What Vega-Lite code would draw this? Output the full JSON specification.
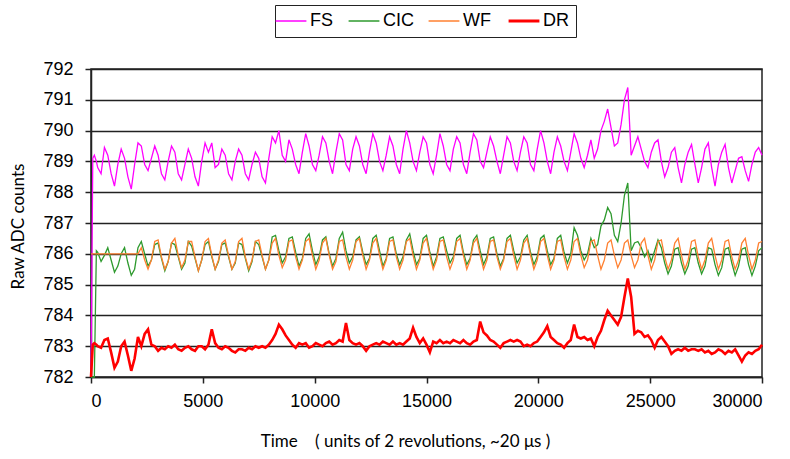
{
"$schema": "https://vega.github.io/schema/vega-lite/v6.json",
"width": 671, "height": 308,
"autosize": {"type": "none"},
"padding": {"left": 91, "top": 69, "right": 28, "bottom": 82},
"background": "white",
"config": {
 "view": {"stroke": "#222", "strokeWidth": 1.5},
 "font": "Liberation Sans",
 "axis": {"domainColor": "#222", "domainWidth": 1.5, "tickColor": "#222", "tickWidth": 1.5, "tickSize": 6, "labelFont": "Liberation Sans", "labelFontSize": 18, "labelColor": "#000", "titleFont": "Lato", "titleFontSize": 17, "titleFontWeight": "normal", "titleColor": "#000"},
 "legend": {"labelFont": "Liberation Sans"}
},
"data": {"values": [
{"t":0,"FS":782.0,"CIC":782.0,"WF":786.0,"DR":782.0},
{"t":80,"FS":789.1,"CIC":782.0,"WF":786.0,"DR":783.05},
{"t":150,"FS":789.2,"CIC":782.0,"WF":786.0,"DR":783.1},
{"t":240,"FS":789.0,"CIC":786.1,"WF":786.0,"DR":783.05},
{"t":300,"FS":788.8,"CIC":786.05,"WF":786.0,"DR":783.0},
{"t":450,"FS":788.6,"CIC":785.75,"WF":786.0,"DR":782.95},
{"t":600,"FS":789.45,"CIC":785.95,"WF":786.0,"DR":783.2},
{"t":750,"FS":789.2,"CIC":786.2,"WF":786.0,"DR":783.25},
{"t":900,"FS":788.6,"CIC":785.8,"WF":786.0,"DR":782.8},
{"t":1050,"FS":788.2,"CIC":785.4,"WF":786.0,"DR":782.3},
{"t":1200,"FS":788.9,"CIC":785.6,"WF":786.0,"DR":782.5},
{"t":1350,"FS":789.4,"CIC":786.0,"WF":786.0,"DR":783.0},
{"t":1500,"FS":789.1,"CIC":786.2,"WF":786.0,"DR":783.15},
{"t":1650,"FS":788.5,"CIC":785.7,"WF":786.0,"DR":782.7},
{"t":1800,"FS":788.1,"CIC":785.3,"WF":786.0,"DR":782.2},
{"t":1950,"FS":788.9,"CIC":785.5,"WF":786.0,"DR":782.6},
{"t":2100,"FS":789.6,"CIC":786.2,"WF":786.0,"DR":783.3},
{"t":2250,"FS":789.5,"CIC":786.4,"WF":786.2,"DR":783.0},
{"t":2400,"FS":788.9,"CIC":786.0,"WF":785.8,"DR":783.4},
{"t":2550,"FS":788.7,"CIC":785.6,"WF":785.5,"DR":783.55},
{"t":2700,"FS":789.1,"CIC":785.8,"WF":785.8,"DR":783.05},
{"t":2850,"FS":789.5,"CIC":786.3,"WF":786.4,"DR":783.0},
{"t":3000,"FS":789.2,"CIC":786.35,"WF":786.45,"DR":782.85},
{"t":3150,"FS":788.6,"CIC":785.85,"WF":785.9,"DR":782.95},
{"t":3300,"FS":788.4,"CIC":785.45,"WF":785.5,"DR":782.9},
{"t":3450,"FS":789.0,"CIC":785.75,"WF":785.75,"DR":783.0},
{"t":3600,"FS":789.5,"CIC":786.35,"WF":786.35,"DR":782.95},
{"t":3750,"FS":789.3,"CIC":786.3,"WF":786.5,"DR":783.05},
{"t":3900,"FS":788.6,"CIC":785.9,"WF":785.95,"DR":782.9},
{"t":4050,"FS":788.4,"CIC":785.5,"WF":785.55,"DR":782.85},
{"t":4200,"FS":788.9,"CIC":785.7,"WF":785.8,"DR":782.95},
{"t":4350,"FS":789.4,"CIC":786.4,"WF":786.4,"DR":783.0},
{"t":4500,"FS":789.1,"CIC":786.25,"WF":786.4,"DR":782.9},
{"t":4650,"FS":788.5,"CIC":785.85,"WF":785.9,"DR":782.85},
{"t":4800,"FS":788.2,"CIC":785.45,"WF":785.45,"DR":783.0},
{"t":4950,"FS":789.0,"CIC":785.8,"WF":785.8,"DR":783.0},
{"t":5100,"FS":789.6,"CIC":786.3,"WF":786.4,"DR":782.9},
{"t":5250,"FS":789.3,"CIC":786.4,"WF":786.5,"DR":783.05},
{"t":5400,"FS":789.6,"CIC":785.9,"WF":785.95,"DR":783.55},
{"t":5550,"FS":788.8,"CIC":785.5,"WF":785.5,"DR":783.1},
{"t":5700,"FS":788.9,"CIC":785.75,"WF":785.8,"DR":782.95},
{"t":5850,"FS":789.4,"CIC":786.3,"WF":786.35,"DR":782.9},
{"t":6000,"FS":789.2,"CIC":786.35,"WF":786.45,"DR":783.0},
{"t":6150,"FS":788.6,"CIC":785.9,"WF":785.95,"DR":782.95},
{"t":6300,"FS":788.4,"CIC":785.5,"WF":785.5,"DR":782.85},
{"t":6450,"FS":789.0,"CIC":785.7,"WF":785.75,"DR":782.8},
{"t":6600,"FS":789.4,"CIC":786.35,"WF":786.4,"DR":782.9},
{"t":6750,"FS":789.2,"CIC":786.3,"WF":786.5,"DR":782.9},
{"t":6900,"FS":788.6,"CIC":785.85,"WF":785.9,"DR":782.85},
{"t":7050,"FS":788.4,"CIC":785.45,"WF":785.5,"DR":782.95},
{"t":7200,"FS":788.9,"CIC":785.75,"WF":785.8,"DR":782.9},
{"t":7350,"FS":789.3,"CIC":786.4,"WF":786.4,"DR":783.0},
{"t":7500,"FS":789.1,"CIC":786.3,"WF":786.45,"DR":782.95},
{"t":7650,"FS":788.5,"CIC":785.9,"WF":785.95,"DR":783.0},
{"t":7800,"FS":788.3,"CIC":785.5,"WF":785.5,"DR":782.95},
{"t":7950,"FS":789.1,"CIC":785.8,"WF":785.8,"DR":783.05},
{"t":8100,"FS":789.8,"CIC":786.55,"WF":786.35,"DR":783.2},
{"t":8250,"FS":789.6,"CIC":786.6,"WF":786.5,"DR":783.4},
{"t":8400,"FS":790.0,"CIC":786.1,"WF":785.95,"DR":783.7},
{"t":8550,"FS":789.2,"CIC":785.7,"WF":785.55,"DR":783.55},
{"t":8700,"FS":789.0,"CIC":785.9,"WF":785.8,"DR":783.35},
{"t":8850,"FS":789.7,"CIC":786.5,"WF":786.4,"DR":783.2},
{"t":9000,"FS":789.4,"CIC":786.55,"WF":786.45,"DR":783.05},
{"t":9150,"FS":788.9,"CIC":786.05,"WF":785.9,"DR":782.95},
{"t":9300,"FS":788.6,"CIC":785.6,"WF":785.5,"DR":783.1},
{"t":9450,"FS":789.3,"CIC":785.85,"WF":785.8,"DR":783.05},
{"t":9600,"FS":789.9,"CIC":786.5,"WF":786.4,"DR":783.1},
{"t":9750,"FS":789.5,"CIC":786.65,"WF":786.5,"DR":782.95},
{"t":9900,"FS":788.9,"CIC":786.1,"WF":785.95,"DR":783.0},
{"t":10050,"FS":788.7,"CIC":785.65,"WF":785.5,"DR":783.1},
{"t":10200,"FS":789.2,"CIC":785.9,"WF":785.8,"DR":783.05},
{"t":10350,"FS":789.8,"CIC":786.45,"WF":786.35,"DR":783.0},
{"t":10500,"FS":789.6,"CIC":786.55,"WF":786.5,"DR":783.1},
{"t":10650,"FS":789.0,"CIC":786.0,"WF":785.95,"DR":783.15},
{"t":10800,"FS":788.6,"CIC":785.6,"WF":785.5,"DR":783.05},
{"t":10950,"FS":789.3,"CIC":785.85,"WF":785.75,"DR":783.1},
{"t":11100,"FS":789.9,"CIC":786.5,"WF":786.4,"DR":783.2},
{"t":11250,"FS":789.7,"CIC":786.7,"WF":786.45,"DR":783.15},
{"t":11400,"FS":788.9,"CIC":786.1,"WF":785.9,"DR":783.75},
{"t":11550,"FS":788.7,"CIC":785.7,"WF":785.5,"DR":783.2},
{"t":11700,"FS":789.4,"CIC":785.9,"WF":785.8,"DR":783.1},
{"t":11850,"FS":789.8,"CIC":786.45,"WF":786.4,"DR":783.05},
{"t":12000,"FS":789.5,"CIC":786.55,"WF":786.5,"DR":783.1},
{"t":12150,"FS":788.9,"CIC":786.05,"WF":785.95,"DR":783.0},
{"t":12300,"FS":788.6,"CIC":785.65,"WF":785.5,"DR":782.85},
{"t":12450,"FS":789.3,"CIC":785.85,"WF":785.8,"DR":783.0},
{"t":12600,"FS":789.9,"CIC":786.5,"WF":786.35,"DR":783.05},
{"t":12750,"FS":789.6,"CIC":786.6,"WF":786.5,"DR":783.1},
{"t":12900,"FS":789.0,"CIC":786.1,"WF":785.95,"DR":783.05},
{"t":13050,"FS":788.7,"CIC":785.6,"WF":785.5,"DR":783.15},
{"t":13200,"FS":789.2,"CIC":785.85,"WF":785.8,"DR":783.1},
{"t":13350,"FS":789.8,"CIC":786.5,"WF":786.4,"DR":783.05},
{"t":13500,"FS":789.5,"CIC":786.55,"WF":786.45,"DR":783.15},
{"t":13650,"FS":788.9,"CIC":786.0,"WF":785.9,"DR":783.05},
{"t":13800,"FS":788.6,"CIC":785.65,"WF":785.5,"DR":783.1},
{"t":13950,"FS":789.4,"CIC":785.9,"WF":785.8,"DR":783.05},
{"t":14100,"FS":790.0,"CIC":786.45,"WF":786.4,"DR":783.15},
{"t":14250,"FS":789.6,"CIC":786.65,"WF":786.5,"DR":783.25},
{"t":14400,"FS":789.0,"CIC":786.1,"WF":785.95,"DR":783.6},
{"t":14550,"FS":788.7,"CIC":785.65,"WF":785.5,"DR":783.3},
{"t":14700,"FS":789.3,"CIC":785.85,"WF":785.8,"DR":783.1},
{"t":14850,"FS":789.8,"CIC":786.5,"WF":786.35,"DR":783.25},
{"t":15000,"FS":789.6,"CIC":786.6,"WF":786.5,"DR":783.05},
{"t":15150,"FS":788.9,"CIC":786.05,"WF":785.95,"DR":782.8},
{"t":15300,"FS":788.6,"CIC":785.6,"WF":785.5,"DR":783.15},
{"t":15450,"FS":789.2,"CIC":785.9,"WF":785.8,"DR":783.1},
{"t":15600,"FS":789.9,"CIC":786.5,"WF":786.4,"DR":783.2},
{"t":15750,"FS":789.5,"CIC":786.55,"WF":786.45,"DR":783.1},
{"t":15900,"FS":788.9,"CIC":786.1,"WF":785.9,"DR":783.15},
{"t":16050,"FS":788.7,"CIC":785.7,"WF":785.5,"DR":783.1},
{"t":16200,"FS":789.4,"CIC":785.9,"WF":785.8,"DR":783.2},
{"t":16350,"FS":789.8,"CIC":786.5,"WF":786.4,"DR":783.15},
{"t":16500,"FS":789.6,"CIC":786.6,"WF":786.5,"DR":783.1},
{"t":16650,"FS":788.9,"CIC":786.05,"WF":785.95,"DR":783.2},
{"t":16800,"FS":788.6,"CIC":785.65,"WF":785.5,"DR":783.1},
{"t":16950,"FS":789.3,"CIC":785.85,"WF":785.8,"DR":783.05},
{"t":17100,"FS":789.9,"CIC":786.45,"WF":786.35,"DR":783.15},
{"t":17250,"FS":789.7,"CIC":786.6,"WF":786.5,"DR":783.2},
{"t":17400,"FS":789.0,"CIC":786.1,"WF":785.95,"DR":783.8},
{"t":17550,"FS":788.8,"CIC":785.65,"WF":785.5,"DR":783.45},
{"t":17700,"FS":789.3,"CIC":785.9,"WF":785.8,"DR":783.35},
{"t":17850,"FS":789.8,"CIC":786.5,"WF":786.4,"DR":783.2},
{"t":18000,"FS":789.5,"CIC":786.55,"WF":786.45,"DR":783.15},
{"t":18150,"FS":789.0,"CIC":786.0,"WF":785.9,"DR":783.05},
{"t":18300,"FS":788.6,"CIC":785.6,"WF":785.5,"DR":782.95},
{"t":18450,"FS":789.2,"CIC":785.85,"WF":785.8,"DR":783.1},
{"t":18600,"FS":789.8,"CIC":786.5,"WF":786.4,"DR":783.15},
{"t":18750,"FS":789.6,"CIC":786.6,"WF":786.5,"DR":783.2},
{"t":18900,"FS":789.0,"CIC":786.1,"WF":785.95,"DR":783.15},
{"t":19050,"FS":788.7,"CIC":785.7,"WF":785.5,"DR":783.2},
{"t":19200,"FS":789.3,"CIC":785.9,"WF":785.8,"DR":783.15},
{"t":19350,"FS":789.8,"CIC":786.45,"WF":786.35,"DR":783.0},
{"t":19500,"FS":789.6,"CIC":786.6,"WF":786.5,"DR":783.05},
{"t":19650,"FS":788.9,"CIC":786.05,"WF":785.95,"DR":783.0},
{"t":19800,"FS":788.7,"CIC":785.65,"WF":785.5,"DR":783.1},
{"t":19950,"FS":789.4,"CIC":785.9,"WF":785.8,"DR":783.15},
{"t":20100,"FS":790.0,"CIC":786.5,"WF":786.4,"DR":783.3},
{"t":20250,"FS":789.6,"CIC":786.6,"WF":786.5,"DR":783.45},
{"t":20400,"FS":789.0,"CIC":786.1,"WF":785.95,"DR":783.65},
{"t":20550,"FS":788.6,"CIC":785.65,"WF":785.5,"DR":783.3},
{"t":20700,"FS":789.3,"CIC":785.85,"WF":785.8,"DR":783.2},
{"t":20850,"FS":789.8,"CIC":786.5,"WF":786.4,"DR":783.1},
{"t":21000,"FS":789.5,"CIC":786.6,"WF":786.45,"DR":783.05},
{"t":21150,"FS":789.0,"CIC":786.05,"WF":785.9,"DR":782.95},
{"t":21300,"FS":788.7,"CIC":785.7,"WF":785.5,"DR":783.1},
{"t":21450,"FS":789.3,"CIC":786.0,"WF":785.8,"DR":783.2},
{"t":21600,"FS":789.9,"CIC":786.85,"WF":786.4,"DR":783.7},
{"t":21750,"FS":789.6,"CIC":786.6,"WF":786.5,"DR":783.3},
{"t":21900,"FS":789.1,"CIC":786.1,"WF":785.95,"DR":783.25},
{"t":22050,"FS":788.8,"CIC":785.8,"WF":785.55,"DR":783.3},
{"t":22200,"FS":789.2,"CIC":786.0,"WF":785.8,"DR":783.2},
{"t":22350,"FS":789.7,"CIC":786.5,"WF":786.4,"DR":783.25},
{"t":22500,"FS":789.1,"CIC":786.2,"WF":786.45,"DR":783.0},
{"t":22650,"FS":789.4,"CIC":786.3,"WF":785.95,"DR":783.3},
{"t":22800,"FS":790.0,"CIC":786.9,"WF":785.5,"DR":783.5},
{"t":22950,"FS":790.3,"CIC":787.1,"WF":785.8,"DR":783.85},
{"t":23100,"FS":790.7,"CIC":787.5,"WF":786.35,"DR":784.15},
{"t":23250,"FS":790.1,"CIC":787.3,"WF":786.45,"DR":784.0},
{"t":23400,"FS":789.5,"CIC":786.6,"WF":785.95,"DR":783.85},
{"t":23550,"FS":789.6,"CIC":786.4,"WF":785.55,"DR":783.7},
{"t":23700,"FS":790.2,"CIC":787.0,"WF":785.8,"DR":783.95},
{"t":23850,"FS":791.0,"CIC":787.9,"WF":786.35,"DR":784.6},
{"t":24000,"FS":791.4,"CIC":788.3,"WF":786.45,"DR":785.2},
{"t":24150,"FS":789.2,"CIC":786.1,"WF":785.95,"DR":784.6},
{"t":24300,"FS":789.5,"CIC":786.35,"WF":785.55,"DR":783.4},
{"t":24450,"FS":789.8,"CIC":786.4,"WF":785.8,"DR":783.5},
{"t":24600,"FS":789.4,"CIC":786.2,"WF":786.35,"DR":783.45},
{"t":24750,"FS":789.0,"CIC":785.9,"WF":786.5,"DR":783.3},
{"t":24900,"FS":788.8,"CIC":786.1,"WF":785.95,"DR":783.35},
{"t":25050,"FS":789.3,"CIC":785.75,"WF":785.5,"DR":783.2},
{"t":25200,"FS":789.6,"CIC":786.1,"WF":785.8,"DR":782.95},
{"t":25350,"FS":789.7,"CIC":786.45,"WF":786.4,"DR":783.2},
{"t":25500,"FS":789.0,"CIC":786.2,"WF":786.45,"DR":783.3},
{"t":25650,"FS":788.5,"CIC":785.7,"WF":785.9,"DR":783.15},
{"t":25800,"FS":788.8,"CIC":785.35,"WF":785.5,"DR":783.0},
{"t":25950,"FS":789.3,"CIC":785.6,"WF":785.8,"DR":782.75},
{"t":26100,"FS":789.45,"CIC":786.15,"WF":786.35,"DR":782.85},
{"t":26250,"FS":788.8,"CIC":786.2,"WF":786.5,"DR":782.9},
{"t":26400,"FS":788.3,"CIC":785.7,"WF":785.95,"DR":782.85},
{"t":26550,"FS":788.9,"CIC":785.35,"WF":785.5,"DR":782.95},
{"t":26700,"FS":789.3,"CIC":785.6,"WF":785.8,"DR":782.85},
{"t":26850,"FS":789.55,"CIC":786.15,"WF":786.4,"DR":782.9},
{"t":27000,"FS":788.9,"CIC":786.2,"WF":786.45,"DR":782.9},
{"t":27150,"FS":788.3,"CIC":785.7,"WF":785.9,"DR":782.85},
{"t":27300,"FS":788.8,"CIC":785.35,"WF":785.5,"DR":782.9},
{"t":27450,"FS":789.4,"CIC":785.6,"WF":785.8,"DR":782.8},
{"t":27600,"FS":789.6,"CIC":786.2,"WF":786.35,"DR":782.85},
{"t":27750,"FS":788.8,"CIC":786.15,"WF":786.5,"DR":782.75},
{"t":27900,"FS":788.2,"CIC":785.65,"WF":785.95,"DR":782.8},
{"t":28050,"FS":788.9,"CIC":785.3,"WF":785.5,"DR":782.9},
{"t":28200,"FS":789.3,"CIC":785.55,"WF":785.8,"DR":782.85},
{"t":28350,"FS":789.55,"CIC":786.15,"WF":786.4,"DR":782.75},
{"t":28500,"FS":788.8,"CIC":786.2,"WF":786.45,"DR":782.85},
{"t":28650,"FS":788.3,"CIC":785.7,"WF":785.9,"DR":782.8},
{"t":28800,"FS":788.7,"CIC":785.3,"WF":785.5,"DR":782.9},
{"t":28950,"FS":789.1,"CIC":785.6,"WF":785.8,"DR":782.7},
{"t":29100,"FS":789.15,"CIC":786.15,"WF":786.35,"DR":782.5},
{"t":29250,"FS":788.7,"CIC":786.2,"WF":786.5,"DR":782.7},
{"t":29400,"FS":788.35,"CIC":785.65,"WF":785.95,"DR":782.8},
{"t":29550,"FS":788.9,"CIC":785.3,"WF":785.5,"DR":782.75},
{"t":29700,"FS":789.3,"CIC":785.6,"WF":785.8,"DR":782.85},
{"t":29850,"FS":789.45,"CIC":786.1,"WF":786.35,"DR":782.9},
{"t":30000,"FS":789.2,"CIC":786.2,"WF":786.4,"DR":783.05}
]},
"transform": [{"fold": ["FS", "CIC", "WF", "DR"], "as": ["series", "value"]}],
"encoding": {
 "x": {"field": "t", "type": "quantitative", "scale": {"domain": [0, 30000], "nice": false},
  "axis": {"values": [0, 5000, 10000, 15000, 20000, 25000, 30000], "format": "d", "grid": false, "labelFont": "Liberation Sans", "labelPadding": 9, "title": "Time\u00a0\u00a0\u00a0\u00a0( units of 2 revolutions, ~20 μs )", "titleX": 314, "titleY": 64, "titleBaseline": "middle", "titleAlign": "center"}},
 "y": {"field": "value", "type": "quantitative", "scale": {"domain": [782, 792], "nice": false, "zero": false},
  "axis": {"values": [782, 783, 784, 785, 786, 787, 788, 789, 790, 791, 792], "grid": true, "gridColor": "#222", "gridWidth": 1.5, "gridOpacity": 1, "labelFont": "Liberation Sans", "labelPadding": 12, "title": "Raw ADC counts", "titleX": -73, "titleY": 157, "titleBaseline": "middle", "titleAlign": "center", "titleAngle": -90}},
 "color": {"field": "series", "type": "nominal",
  "scale": {"domain": ["FS", "CIC", "WF", "DR"], "range": ["#ff00ff", "#2e9a2e", "#ff8030", "#ff0000"]},
  "legend": {"orient": "none", "legendX": 184, "legendY": -64, "direction": "horizontal", "title": null, "strokeColor": "#222", "padding": 7, "symbolType": "stroke", "symbolSize": 950, "symbolStrokeWidth": 1.5, "labelFontSize": 18, "labelFont": "Liberation Sans", "labelColor": "#000", "labelOffset": 10, "columnPadding": 11,
   "encode": {"symbols": {"update": {"strokeWidth": {"signal": "datum.label == 'DR' ? 3 : 1.5"}}}}}}
},
"layer": [
 {"transform": [{"filter": "datum.series != 'DR'"}], "mark": {"type": "line", "strokeWidth": 1.3}},
 {"transform": [{"filter": "datum.series == 'DR'"}], "mark": {"type": "line", "strokeWidth": 2.6}}
]
}
